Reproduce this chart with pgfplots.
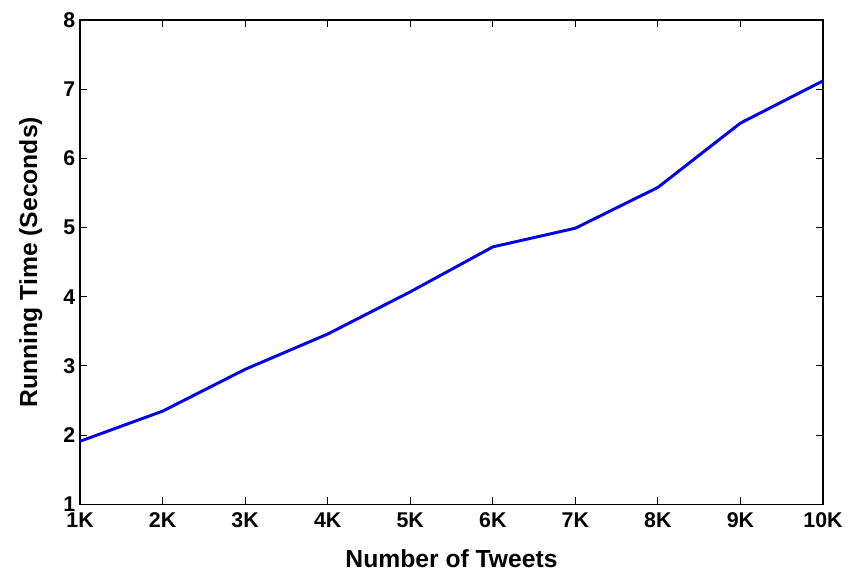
\documentclass[border=0pt]{standalone}
\usepackage{pgfplots}
\pgfplotsset{compat=1.18}
\usepackage{fontspec}
\setmainfont{Liberation Sans}

\begin{document}
\begin{tikzpicture}
\begin{axis}[
  name=ax,
  scale only axis,
  width=557pt, height=363pt,
  xmin=1, xmax=10, ymin=1, ymax=8,
  xtick={1,...,10},
  xticklabels={1K,2K,3K,4K,5K,6K,7K,8K,9K,10K},
  ytick={1,...,8},
  tick align=inside,
  major tick length=5.25pt,
  tick style={black, line width=0.7pt},
  axis line style={line width=1pt},
  /pgf/number format/assume math mode=true,
  tick label style={font=\fontsize{16}{18}\selectfont\bfseries},
  xticklabel style={yshift=-3pt},
]
\addplot[color={rgb,255:red,0;green,0;blue,235}, line width=2.2pt] coordinates {
  (1,1.91) (2,2.345) (3,2.95) (4,3.46) (5,4.07)
  (6,4.72) (7,4.99) (8,5.58) (9,6.51) (10,7.12)
};
\end{axis}
\node[font=\fontsize{18.5}{20}\selectfont\bfseries] at ([yshift=-41pt]ax.south) {Number of Tweets};
\node[rotate=90, font=\fontsize{18.5}{20}\selectfont\bfseries] at ([xshift=-37pt]ax.west) {Running Time (Seconds)};
\pgfresetboundingbox
\path ([shift={(-60pt,-51pt)}]ax.south west) rectangle ([shift={(24.75pt,15pt)}]ax.north east);
\end{tikzpicture}
\end{document}
